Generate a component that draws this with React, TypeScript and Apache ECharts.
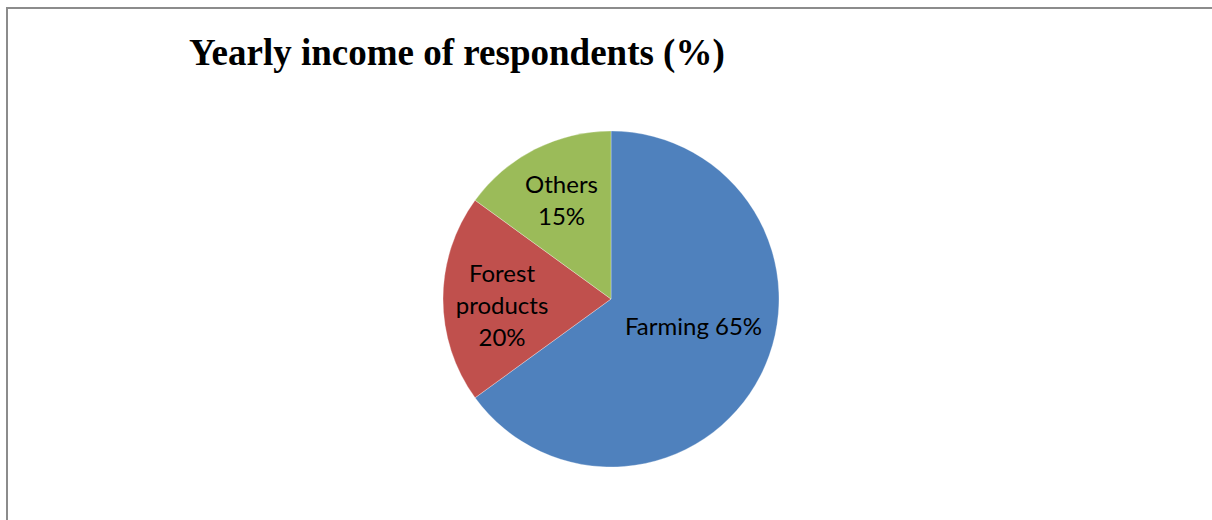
import React, { useEffect, useRef } from "react";
import * as echarts from "echarts";

const categories = ["Farming", "Forest\nproducts", "Others"];
const values = [65, 20, 15];
const colors = ["#4F81BD", "#C0504D", "#9BBB59"];
const titleText = "Yearly income of respondents (%)";
const labelShift = [
  [5, -13],
  [-22, 5],
  [-10, -22],
];

export default function App() {
  const ref = useRef<HTMLDivElement>(null);
  useEffect(() => {
    document.body.style.margin = "0";
    const chart = echarts.init(ref.current!, null, { renderer: "svg" });
    chart.setOption({
      animation: false,
      backgroundColor: "#fff",
      title: {
        text: titleText,
        left: 184,
        top: 29,
        textStyle: {
          fontFamily: "Liberation Serif",
          fontWeight: "bold",
          fontSize: 37,
          color: "#000",
        },
      },
      graphic: [
        {
          type: "rect",
          shape: { x: 7, y: 8, width: 1300, height: 600 },
          style: { fill: "none", stroke: "#8c8c8c", lineWidth: 2 },
          silent: true,
        },
      ],
      series: [
        {
          type: "pie",
          center: [611, 299],
          radius: 168,
          startAngle: 90,
          clockwise: true,
          itemStyle: { borderColor: "rgba(255,255,255,0.6)", borderWidth: 0.5 },
          label: {
            show: true,
            position: "inside",
            fontFamily: "Lato",
            fontSize: 24,
            lineHeight: 32,
            color: "#000",
            align: "center",
            formatter: (p: any) =>
              p.dataIndex === 0 ? `${p.name} ${p.value}%` : `${p.name}\n${p.value}%`,
          },
          labelLine: { show: false },
          labelLayout: (p: any) => ({
            dx: labelShift[p.dataIndex][0],
            dy: labelShift[p.dataIndex][1],
          }),
          data: categories.map((c, i) => ({
            name: c,
            value: values[i],
            itemStyle: { color: colors[i] },
          })),
        },
      ],
    });
    return () => chart.dispose();
  }, []);
  return <div ref={ref} style={{ width: 1212, height: 520 }} />;
}
